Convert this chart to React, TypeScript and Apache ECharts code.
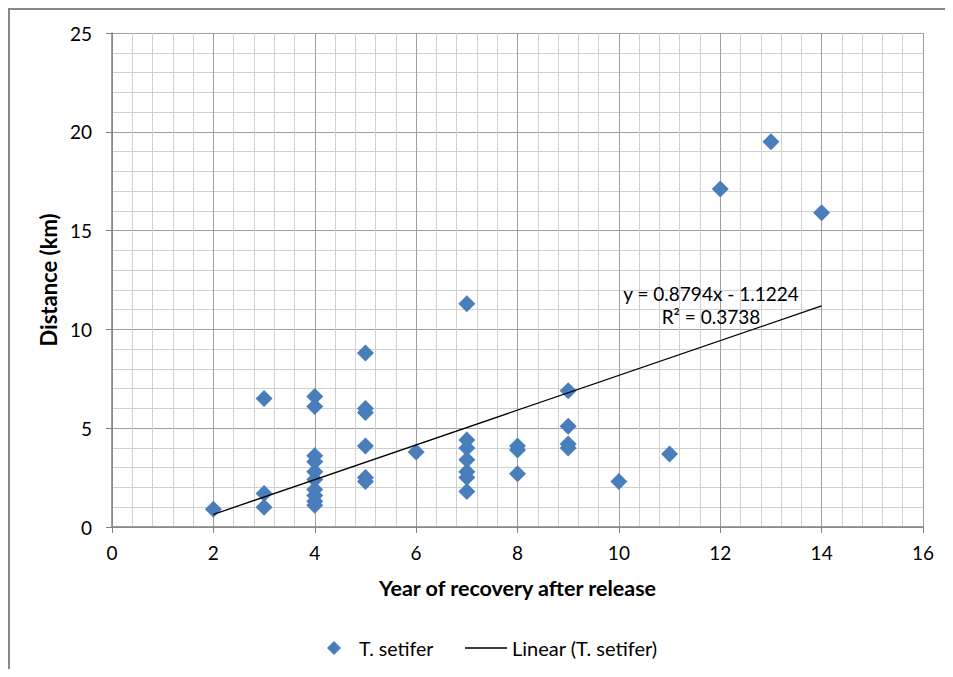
import React, { useEffect, useRef } from "react";
import * as echarts from "echarts";

// Year of recovery after release (x) and distances (km) recovered in that year
const years = [2, 3, 4, 5, 6, 7, 8, 9, 10, 11, 12, 13, 14];
const distancesByYear = [
  [0.9],
  [6.5, 1.7, 1.0],
  [6.6, 6.1, 3.6, 3.3, 2.8, 2.4, 1.9, 1.6, 1.3, 1.1],
  [8.8, 6.0, 5.8, 4.1, 2.5, 2.3],
  [3.8],
  [11.3, 4.4, 4.0, 3.4, 2.8, 2.5, 1.8],
  [4.1, 3.9, 2.7],
  [6.9, 5.1, 4.2, 4.0],
  [2.3],
  [3.7],
  [17.1],
  [19.5],
  [15.9],
];

// Linear trend line reported on the chart
const trendSlope = 0.8794;
const trendIntercept = -1.1224;
const trendXRange = [2, 14];
const trendR2 = 0.3738;

const seriesName = "T. setifer";
const trendName = "Linear (T. setifer)";
const xAxisTitle = "Year of recovery after release";
const yAxisTitle = "Distance (km)";

const FONT = "Lato, 'Open Sans', sans-serif";

export default function App() {
  const ref = useRef<HTMLDivElement>(null);

  useEffect(() => {
    if (!ref.current) return;
    const chart = echarts.init(ref.current, undefined, { renderer: "svg" });

    const points: number[][] = [];
    years.forEach((yr, i) => {
      distancesByYear[i].forEach((d) => points.push([yr, d]));
    });
    const trendPoints = trendXRange.map((x) => [x, trendSlope * x + trendIntercept]);
    const fmt = (v: number) => v.toFixed(4);
    const eqText = `y = ${fmt(trendSlope)}x - ${fmt(Math.abs(trendIntercept))}`;
    const r2Text = `R² = ${fmt(trendR2)}`;

    const majorLine = { show: true, lineStyle: { color: "#a0a0a0", width: 1 } };
    const minorLine = { show: true, lineStyle: { color: "#d0d0d0", width: 1 } };

    chart.setOption({
      animation: false,
      backgroundColor: "#ffffff",
      textStyle: { fontFamily: FONT },
      grid: { left: 104, top: 25, right: 22, bottom: 142, containLabel: false },
      xAxis: {
        type: "value",
        min: 0,
        max: 16,
        interval: 2,
        name: xAxisTitle,
        nameLocation: "middle",
        nameGap: 50,
        nameTextStyle: { fontFamily: FONT, fontSize: 21.5, fontWeight: "bold", color: "#000" },
        axisLine: { show: true, onZero: false, lineStyle: { color: "#808080", width: 1.5 } },
        axisTick: { show: true, inside: false, length: 6, lineStyle: { color: "#808080" } },
        axisLabel: { margin: 16, fontFamily: FONT, fontSize: 19, color: "#000" },
        splitLine: majorLine,
        minorTick: { show: false, splitNumber: 5 },
        minorSplitLine: minorLine,
      },
      yAxis: {
        type: "value",
        min: 0,
        max: 25,
        interval: 5,
        name: yAxisTitle,
        nameLocation: "middle",
        nameGap: 50,
        nameTextStyle: { fontFamily: FONT, fontSize: 22, fontWeight: "bold", color: "#000" },
        axisLine: { show: true, lineStyle: { color: "#808080", width: 1.5 } },
        axisTick: { show: true, inside: false, length: 6, lineStyle: { color: "#808080" } },
        axisLabel: { margin: 20, fontFamily: FONT, fontSize: 19, color: "#000" },
        splitLine: majorLine,
        minorTick: { show: false, splitNumber: 5 },
        minorSplitLine: minorLine,
      },
      legend: [
        {
          data: [{ name: seriesName, icon: "diamond" }],
          left: 314,
          top: 625,
          itemWidth: 14,
          itemHeight: 14,
          itemStyle: { opacity: 1 },
          textStyle: { fontFamily: FONT, fontSize: 19.5, color: "#000", padding: [0, 0, 0, 13] },
        },
        {
          data: [{ name: trendName, icon: "rect" }],
          left: 452,
          top: 625,
          itemWidth: 42,
          itemHeight: 1.5,
          textStyle: { fontFamily: FONT, fontSize: 20, color: "#000" },
        },
      ],
      series: [
        {
          name: seriesName,
          type: "scatter",
          symbol: "diamond",
          symbolSize: 17,
          itemStyle: { color: "#4A7EBB", opacity: 1 },
          data: points,
          z: 3,
        },
        {
          name: trendName,
          type: "line",
          symbol: "none",
          lineStyle: { color: "#000", width: 1.3 },
          itemStyle: { color: "#000" },
          data: trendPoints,
          z: 4,
        },
      ],
      graphic: [
        { type: "line", shape: { x1: 1, y1: 0, x2: 1, y2: 661 }, style: { stroke: "#878787", lineWidth: 2 } },
        { type: "line", shape: { x1: 0, y1: 1, x2: 937, y2: 1 }, style: { stroke: "#878787", lineWidth: 2 } },
        {
          type: "text",
          x: 703,
          y: 285,
          z: 10,
          style: { text: eqText, fontFamily: FONT, fontSize: 19, fill: "#000", textAlign: "center", textVerticalAlign: "middle" },
        },
        {
          type: "text",
          x: 703,
          y: 308,
          z: 10,
          style: { text: r2Text, fontFamily: FONT, fontSize: 19, fill: "#000", textAlign: "center", textVerticalAlign: "middle" },
        },
      ],
    });

    return () => chart.dispose();
  }, []);

  return <div ref={ref} style={{ width: 937, height: 661 }} />;
}
